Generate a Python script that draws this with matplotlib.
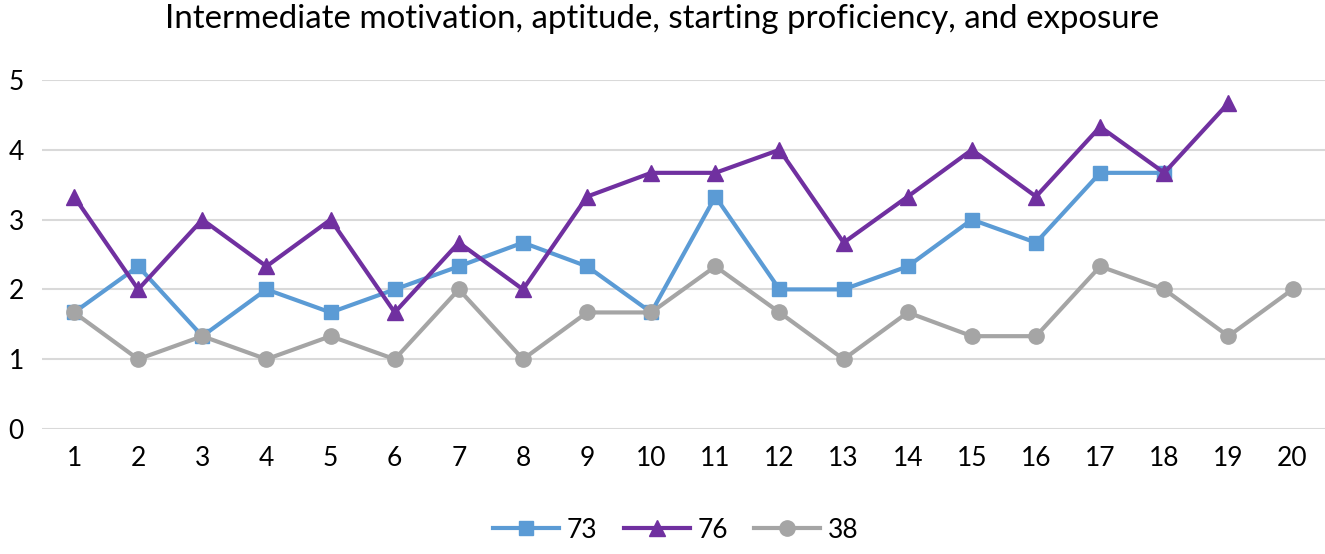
import numpy as np
import matplotlib
matplotlib.use("Agg")
import matplotlib.pyplot as plt

plt.rcParams['font.family'] = ['Lato', 'DejaVu Sans']

# Chart data
categories = list(range(1, 21))
s73 = [1.67, 2.33, 1.33, 2.0, 1.67, 2.0, 2.33, 2.67, 2.33, 1.67,
       3.33, 2.0, 2.0, 2.33, 3.0, 2.67, 3.67, 3.67, np.nan, np.nan]
s76 = [3.33, 2.0, 3.0, 2.33, 3.0, 1.67, 2.67, 2.0, 3.33, 3.67,
       3.67, 4.0, 2.67, 3.33, 4.0, 3.33, 4.33, 3.67, 4.67, np.nan]
s38 = [1.67, 1.0, 1.33, 1.0, 1.33, 1.0, 2.0, 1.0, 1.67, 1.67,
       2.33, 1.67, 1.0, 1.67, 1.33, 1.33, 2.33, 2.0, 1.33, 2.0]
series_names = ["73", "76", "38"]

fig = plt.figure(figsize=(13.25, 5.54), dpi=100)
ax = fig.add_axes([0.0317, 0.2256, 0.968, 0.63])

ax.plot(categories, s73, color='#5B9BD5', lw=3, marker='s', ms=10, label=series_names[0])
ax.plot(categories, s76, color='#7030A0', lw=3, marker='^', ms=11.5, label=series_names[1])
ax.plot(categories, s38, color='#A5A5A5', lw=3, marker='o', ms=11, label=series_names[2])

ax.set_xlim(0.5, 20.5)
ax.set_ylim(0, 5)
ax.set_xticks(categories)
ax.set_yticks(range(0, 6))
ax.yaxis.grid(True, color='#D9D9D9', lw=1.5)
ax.set_axisbelow(True)
for sp in ax.spines.values():
    sp.set_visible(False)
ax.tick_params(length=0, labelsize=19, colors='black')
ax.tick_params(axis='x', pad=12)
ax.tick_params(axis='y', pad=24)
for lbl in ax.get_yticklabels():
    lbl.set_horizontalalignment('left')

fig.suptitle("Intermediate motivation, aptitude, starting proficiency, and exposure",
             fontsize=23.8, y=0.993, va='top')
fig.legend(loc='center', bbox_to_anchor=(0.51, 0.043), ncol=3, frameon=False,
           fontsize=19, handlelength=2.5, columnspacing=1.0, handletextpad=0.3)

fig.savefig("out.png", dpi=100)
